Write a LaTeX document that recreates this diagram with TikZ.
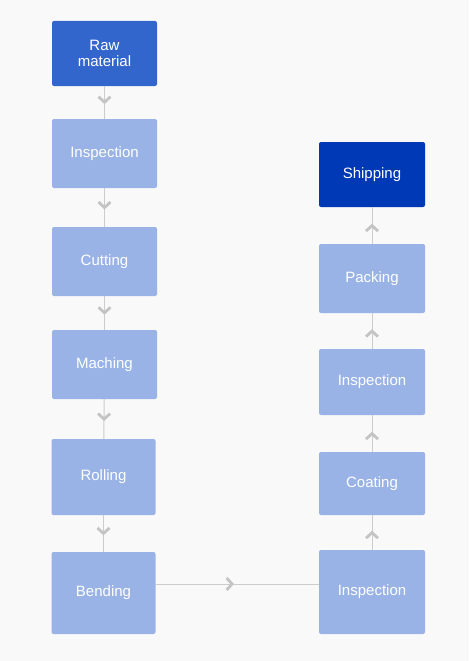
\documentclass[tikz,border=0pt]{standalone}
\usepackage{fontspec}
\setmainfont{Liberation Sans}
\usetikzlibrary{arrows.meta,decorations.markings}
\definecolor{bg}{HTML}{F9F9F9}
\definecolor{lightbox}{HTML}{99B3E6}
\definecolor{midbox}{HTML}{3366CC}
\definecolor{darkbox}{HTML}{0039B5}
\definecolor{linec}{HTML}{CCCCCC}
\definecolor{chevc}{HTML}{C4C4C4}
\tikzset{
  boxl/.style={fill=lightbox, draw=none, rounded corners=2pt, text=white,
    font=\fontsize{15}{16.5}\selectfont, align=center, inner sep=0pt},
  conn/.style={draw=linec, line width=1pt, postaction={decorate},
    decoration={markings, mark=at position #1 with {\arrow[chevc]{Straight Barb[length=5.5pt,width=12pt,line width=2.8pt]}}}},
  conn/.default=0.55
}
\begin{document}
\begin{tikzpicture}[x=1pt,y=-1pt]
\fill[bg] (0,0) rectangle (469,661);
\useasboundingbox (0,0) rectangle (469,661);
% left column
\node[boxl, fill=midbox, minimum width=105pt, minimum height=65pt] (raw) at (104.5,53.5) {Raw\\material};
\node[boxl, minimum width=105pt, minimum height=69pt] (insp1) at (104.5,153.5) {Inspection};
\node[boxl, minimum width=105pt, minimum height=69pt] (cut) at (104.5,261.5) {Cutting};
\node[boxl, minimum width=105pt, minimum height=69pt] (mach) at (104.5,364.5) {Maching};
\node[boxl, minimum width=104pt, minimum height=76pt] (roll) at (103.5,477) {Rolling};
\node[boxl, minimum width=104pt, minimum height=82pt] (bend) at (103.5,593) {Bending};
% right column
\node[boxl, fill=darkbox, minimum width=106pt, minimum height=65pt] (ship) at (372,174.5) {Shipping};
\node[boxl, minimum width=106pt, minimum height=69pt] (pack) at (372,278.5) {Packing};
\node[boxl, minimum width=106pt, minimum height=66pt] (insp3) at (372,382) {Inspection};
\node[boxl, minimum width=106pt, minimum height=63pt] (coat) at (372,483.5) {Coating};
\node[boxl, minimum width=106pt, minimum height=84pt] (insp2) at (372,592) {Inspection};
\coordinate (hl) at (0,584);
% connectors
\draw[conn] (raw) -- (insp1);
\draw[conn] (insp1) -- (cut);
\draw[conn] (cut) -- (mach);
\draw[conn] (mach) -- (roll);
\draw[conn] (roll) -- (bend);
\draw[conn=0.48] (bend.east |- hl) -- (insp2.west |- hl);
\draw[conn] (insp2) -- (coat);
\draw[conn] (coat) -- (insp3);
\draw[conn] (insp3) -- (pack);
\draw[conn] (pack) -- (ship);
\end{tikzpicture}
\end{document}
